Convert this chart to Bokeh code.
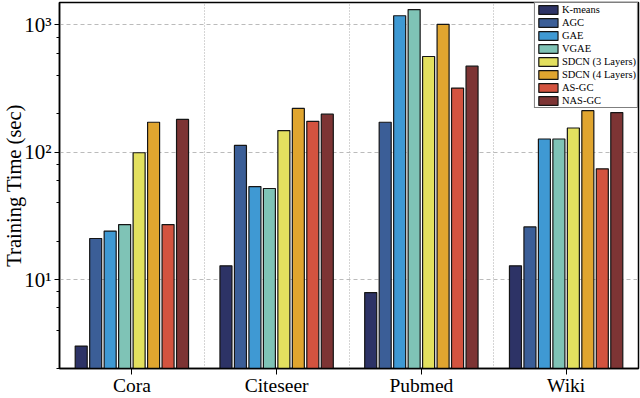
from bokeh.plotting import figure
from bokeh.models import (Range1d, FixedTicker, LogTicker, Legend, LegendItem,
                          ColumnDataSource)
from bokeh.transform import dodge
from bokeh.embed import file_html
from bokeh.resources import INLINE

# ---- data ----
datasets = ["Cora", "Citeseer", "Pubmed", "Wiki"]
methods = ["K-means", "AGC", "GAE", "VGAE", "SDCN (3 Layers)",
           "SDCN (4 Layers)", "AS-GC", "NAS-GC"]
kmeans = [3.0, 12.8, 7.9, 12.8]
agc = [21.0, 113, 172, 25.9]
gae = [24.0, 53.7, 1180, 127]
vgae = [27.0, 51.9, 1320, 127]
sdcn3 = [99, 148, 565, 155]
sdcn4 = [172, 221, 1010, 212]
asgc = [27.0, 175, 319, 74]
nasgc = [181, 199, 474, 205]
series = [kmeans, agc, gae, vgae, sdcn3, sdcn4, asgc, nasgc]
colors = ["#2d3366", "#3b5e97", "#3f99d3", "#7fc3b6", "#e3e05f",
          "#e0a52f", "#d3533f", "#7d3434"]
y_ticks = [10, 100, 1000]
y_tick_labels = ["10\u00b9", "10\u00b2", "10\u00b3"]

FONT = "Liberation Serif"

data = {"x": list(range(len(datasets)))}
keys = []
for i, s in enumerate(series):
    k = "s%d" % i
    keys.append(k)
    data[k] = s
src = ColumnDataSource(data=data)

p = figure(width=640, height=398, output_backend="svg", toolbar_location=None,
           y_axis_type="log",
           x_range=Range1d(-0.5, len(datasets) - 0.5),
           y_range=Range1d(2, 1500),
           min_border_left=58, min_border_right=2, min_border_top=2,
           min_border_bottom=28)
p.background_fill_color = "white"
p.border_fill_color = "white"
p.outline_line_color = "black"
p.outline_line_width = 1.5
p.outline_line_alpha = 1.0

n = len(methods)
slot = 0.1
renderers = []
for i, (k, c) in enumerate(zip(keys, colors)):
    r = p.vbar(x=dodge("x", (i - (n - 1) / 2) * slot, range=p.x_range),
               top=k, bottom=1, width=0.083, source=src,
               fill_color=c, line_color="#151515", line_width=1.2)
    renderers.append(r)

# axes
p.xaxis.ticker = FixedTicker(ticks=list(range(len(datasets))))
p.xaxis.major_label_overrides = {i: d for i, d in enumerate(datasets)}
p.xaxis.major_label_text_font = FONT
p.xaxis.major_label_text_font_size = "19.5px"
p.xaxis.major_label_text_color = "black"
p.xaxis.major_label_standoff = 0
p.xaxis.major_tick_out = 6
p.xaxis.major_tick_in = 0
p.xaxis.minor_tick_out = 0
p.xaxis.minor_tick_in = 0
p.xaxis.axis_line_width = 1.5
p.xaxis.major_tick_line_color = "black"

p.yaxis.ticker = LogTicker(mantissas=[1])
p.yaxis.major_label_overrides = dict(zip(y_ticks, y_tick_labels))
p.yaxis.major_label_text_font = FONT
p.yaxis.major_label_text_font_size = "21px"
p.yaxis.major_label_text_color = "black"
p.yaxis.major_label_standoff = 3
p.yaxis.major_tick_out = 5
p.yaxis.major_tick_in = 0
p.yaxis.minor_tick_out = 3
p.yaxis.minor_tick_in = 0
p.yaxis.axis_line_width = 1.5
p.yaxis.major_tick_line_color = "black"
p.yaxis.minor_tick_line_color = "black"
p.yaxis.axis_label = "Training Time (sec)"
p.yaxis.axis_label_text_font = FONT
p.yaxis.axis_label_text_font_style = "normal"
p.yaxis.axis_label_text_font_size = "20.5px"
p.yaxis.axis_label_text_color = "black"
p.yaxis.axis_label_standoff = -4

# grids
p.ygrid.grid_line_color = "#bbbbbb"
p.ygrid.grid_line_dash = "4 3"
p.ygrid.grid_line_width = 1.2
p.xgrid.ticker = FixedTicker(ticks=[i + 0.5 for i in range(len(datasets) - 1)])
p.xgrid.grid_line_color = "#aaaaaa"
p.xgrid.grid_line_dash = "1 2"
p.xgrid.grid_line_width = 1

legend = Legend(items=[LegendItem(label=m, renderers=[r])
                       for m, r in zip(methods, renderers)],
                location="top_right")
legend.margin = 0
legend.padding = 1
legend.spacing = 2
legend.glyph_width = 24
legend.glyph_height = 11
legend.label_height = 11
legend.label_standoff = 2
legend.label_text_font = FONT
legend.label_text_font_size = "10.5px"
legend.label_text_color = "black"
legend.border_line_color = "black"
legend.border_line_width = 1
legend.background_fill_alpha = 1.0
p.add_layout(legend)

open("out.html", "w").write(file_html(p, INLINE))
